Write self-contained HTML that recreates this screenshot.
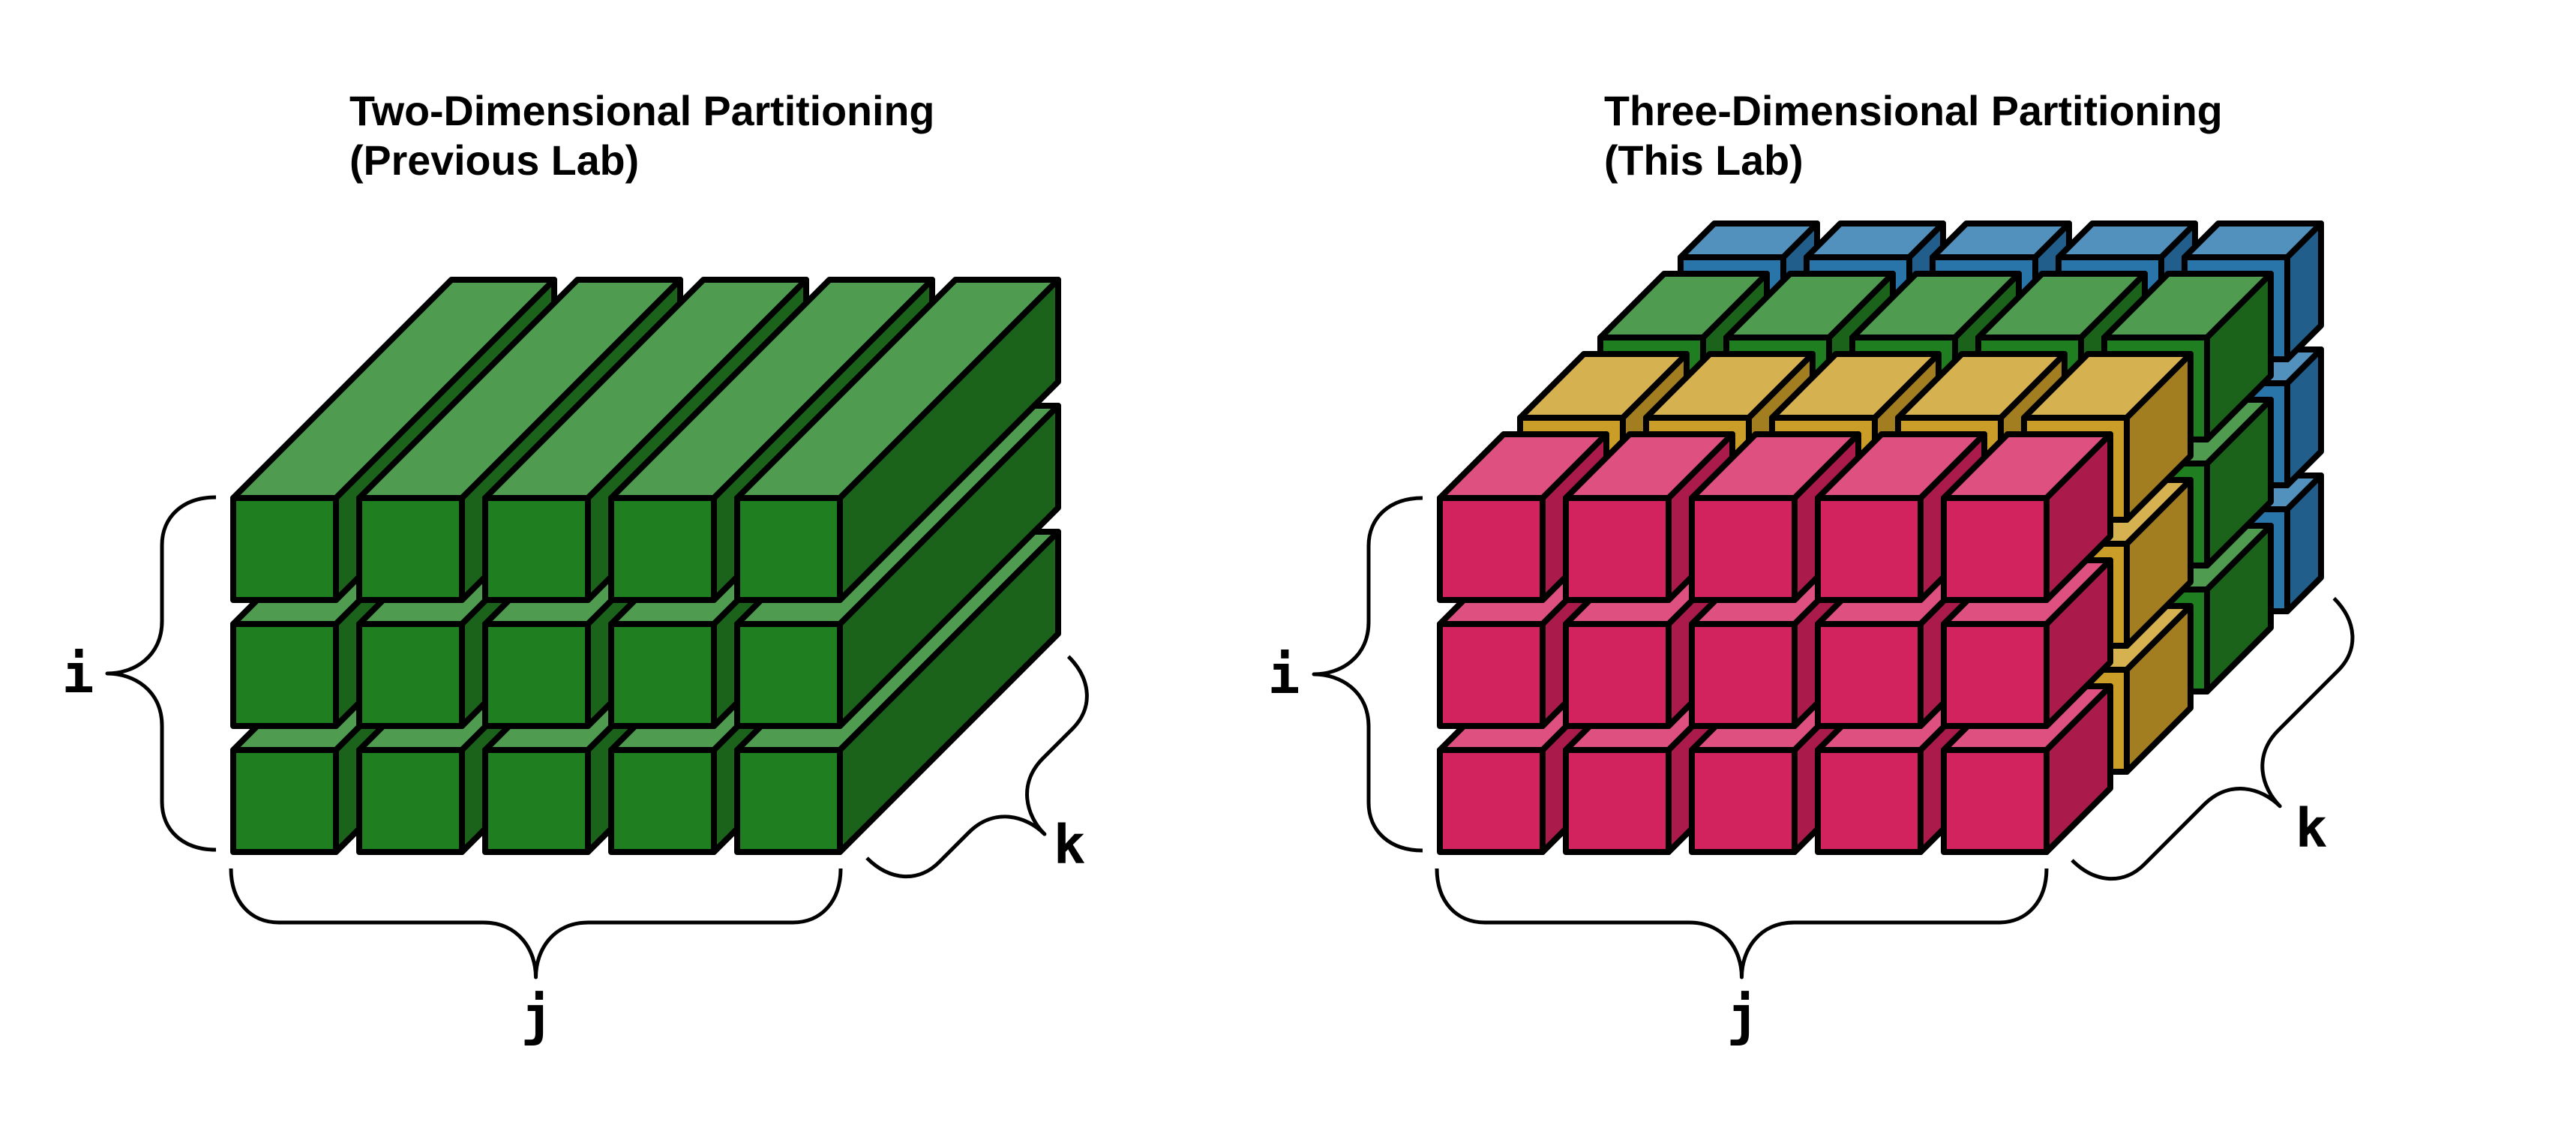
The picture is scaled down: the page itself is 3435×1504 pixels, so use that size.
<!DOCTYPE html>
<html>
<head>
<meta charset="utf-8">
<style>
html,body{margin:0;padding:0;background:#fff;}
svg{display:block;}
.t{font-family:"Liberation Sans",Arial,sans-serif;font-weight:bold;font-size:55.6px;fill:#000;}
.l{font-family:"DejaVu Sans Mono","Liberation Mono",monospace;font-weight:bold;font-size:71px;fill:#000;text-anchor:middle;}
.br{fill:none;stroke:#000;stroke-width:5;stroke-linejoin:round;stroke-linecap:butt;}
</style>
</head>
<body>
<svg width="3435" height="1504" viewBox="0 0 3435 1504" xmlns="http://www.w3.org/2000/svg">
<rect width="3435" height="1504" fill="#fff"/>
<defs>
  <g id="gbar" stroke="#000" stroke-width="8" stroke-linejoin="round">
    <polygon points="0,0 137,0 428,-291 291,-291" fill="#4f9b4f"/>
    <polygon points="137,0 428,-291 428,-155 137,136" fill="#1b631b"/>
    <polygon points="0,0 137,0 137,136 0,136" fill="#1f7f20"/>
  </g>
  <g id="pk" stroke="#000" stroke-width="8" stroke-linejoin="round">
    <polygon points="0,0 137,0 222,-85 85,-85" fill="#de507f"/>
    <polygon points="137,0 222,-85 222,51 137,136" fill="#aa1b4c"/>
    <polygon points="0,0 137,0 137,136 0,136" fill="#d2235f"/>
  </g>
  <g id="yl" stroke="#000" stroke-width="8" stroke-linejoin="round">
    <polygon points="0,0 137,0 222,-85 85,-85" fill="#d6b150"/>
    <polygon points="137,0 222,-85 222,51 137,136" fill="#a27e20"/>
    <polygon points="0,0 137,0 137,136 0,136" fill="#c99d27"/>
  </g>
  <g id="gr" stroke="#000" stroke-width="8" stroke-linejoin="round">
    <polygon points="0,0 137,0 222,-85 85,-85" fill="#4f9b4f"/>
    <polygon points="137,0 222,-85 222,51 137,136" fill="#1b631b"/>
    <polygon points="0,0 137,0 137,136 0,136" fill="#1f7f20"/>
  </g>
  <g id="bl" stroke="#000" stroke-width="8" stroke-linejoin="round">
    <polygon points="0,0 137,0 182,-45 45,-45" fill="#5291bd"/>
    <polygon points="137,0 182,-45 182,91 137,136" fill="#225e8b"/>
    <polygon points="0,0 137,0 137,136 0,136" fill="#2975aa"/>
  </g>
</defs>

<!-- Titles -->
<text class="t" x="466" y="167">Two-Dimensional Partitioning</text>
<text class="t" x="466" y="233">(Previous Lab)</text>
<text class="t" x="2139" y="167">Three-Dimensional Partitioning</text>
<text class="t" x="2139" y="233">(This Lab)</text>

<!-- Left: 2D bars -->
<use href="#gbar" x="311" y="1000"/><use href="#gbar" x="479" y="1000"/><use href="#gbar" x="647" y="1000"/><use href="#gbar" x="815" y="1000"/><use href="#gbar" x="983" y="1000"/>
<use href="#gbar" x="311" y="832"/><use href="#gbar" x="479" y="832"/><use href="#gbar" x="647" y="832"/><use href="#gbar" x="815" y="832"/><use href="#gbar" x="983" y="832"/>
<use href="#gbar" x="311" y="664"/><use href="#gbar" x="479" y="664"/><use href="#gbar" x="647" y="664"/><use href="#gbar" x="815" y="664"/><use href="#gbar" x="983" y="664"/>

<!-- Right: blue layer (k=3) -->
<use href="#bl" x="2241" y="679"/><use href="#bl" x="2409" y="679"/><use href="#bl" x="2577" y="679"/><use href="#bl" x="2745" y="679"/><use href="#bl" x="2913" y="679"/>
<use href="#bl" x="2241" y="511"/><use href="#bl" x="2409" y="511"/><use href="#bl" x="2577" y="511"/><use href="#bl" x="2745" y="511"/><use href="#bl" x="2913" y="511"/>
<use href="#bl" x="2241" y="343"/><use href="#bl" x="2409" y="343"/><use href="#bl" x="2577" y="343"/><use href="#bl" x="2745" y="343"/><use href="#bl" x="2913" y="343"/>
<!-- green layer (k=2) -->
<use href="#gr" x="2134" y="786"/><use href="#gr" x="2302" y="786"/><use href="#gr" x="2470" y="786"/><use href="#gr" x="2638" y="786"/><use href="#gr" x="2806" y="786"/>
<use href="#gr" x="2134" y="618"/><use href="#gr" x="2302" y="618"/><use href="#gr" x="2470" y="618"/><use href="#gr" x="2638" y="618"/><use href="#gr" x="2806" y="618"/>
<use href="#gr" x="2134" y="450"/><use href="#gr" x="2302" y="450"/><use href="#gr" x="2470" y="450"/><use href="#gr" x="2638" y="450"/><use href="#gr" x="2806" y="450"/>
<!-- yellow layer (k=1) -->
<use href="#yl" x="2027" y="893"/><use href="#yl" x="2195" y="893"/><use href="#yl" x="2363" y="893"/><use href="#yl" x="2531" y="893"/><use href="#yl" x="2699" y="893"/>
<use href="#yl" x="2027" y="725"/><use href="#yl" x="2195" y="725"/><use href="#yl" x="2363" y="725"/><use href="#yl" x="2531" y="725"/><use href="#yl" x="2699" y="725"/>
<use href="#yl" x="2027" y="557"/><use href="#yl" x="2195" y="557"/><use href="#yl" x="2363" y="557"/><use href="#yl" x="2531" y="557"/><use href="#yl" x="2699" y="557"/>
<!-- pink layer (k=0) -->
<use href="#pk" x="1920" y="1000"/><use href="#pk" x="2088" y="1000"/><use href="#pk" x="2256" y="1000"/><use href="#pk" x="2424" y="1000"/><use href="#pk" x="2592" y="1000"/>
<use href="#pk" x="1920" y="832"/><use href="#pk" x="2088" y="832"/><use href="#pk" x="2256" y="832"/><use href="#pk" x="2424" y="832"/><use href="#pk" x="2592" y="832"/>
<use href="#pk" x="1920" y="664"/><use href="#pk" x="2088" y="664"/><use href="#pk" x="2256" y="664"/><use href="#pk" x="2424" y="664"/><use href="#pk" x="2592" y="664"/>

<!-- Braces left -->
<path class="br" transform="matrix(0,1,-1,0,288,663)" d="M0 0 C0 44 26 72 64 72 L165 72 C213 72 235 110 235 145 C235 110 257 72 305 72 L406 72 C444 72 470 44 470 0"/>
<path class="br" transform="translate(308,1158)" d="M0 0 C0 44 26 72 64 72 L336.5 72 C384.5 72 406.5 110 406.5 145 C406.5 110 428.5 72 476.5 72 L749 72 C787 72 813 44 813 0"/>
<path class="br" transform="matrix(0.7071,-0.7071,0.7071,0.7071,1156,1144)" d="M0 0 C0 44 26 72 64 72 L120 72 C168 72 190 110 190 145 C190 110 212 72 260 72 L316 72 C354 72 380 44 380 0"/>

<!-- Braces right -->
<path class="br" transform="matrix(0,1,-1,0,1897,664)" d="M0 0 C0 44 26 72 64 72 L165 72 C213 72 235 110 235 145 C235 110 257 72 305 72 L406 72 C444 72 470 44 470 0"/>
<path class="br" transform="translate(1916,1158)" d="M0 0 C0 44 26 72 64 72 L336.5 72 C384.5 72 406.5 110 406.5 145 C406.5 110 428.5 72 476.5 72 L749 72 C787 72 813 44 813 0"/>
<path class="br" transform="matrix(0.7071,-0.7071,0.7071,0.7071,2763,1147)" d="M0 0 C0 44 26 72 64 72 L177 72 C225 72 247 110 247 145 C247 110 269 72 317 72 L430 72 C468 72 494 44 494 0"/>

<!-- Labels -->
<text class="l" x="104" y="923">i</text>
<text class="l" x="716" y="1379">j</text>
<text class="l" x="1426" y="1151">k</text>
<text class="l" x="1712" y="924">i</text>
<text class="l" x="2324" y="1379">j</text>
<text class="l" x="3082" y="1129">k</text>
</svg>
</body>
</html>
